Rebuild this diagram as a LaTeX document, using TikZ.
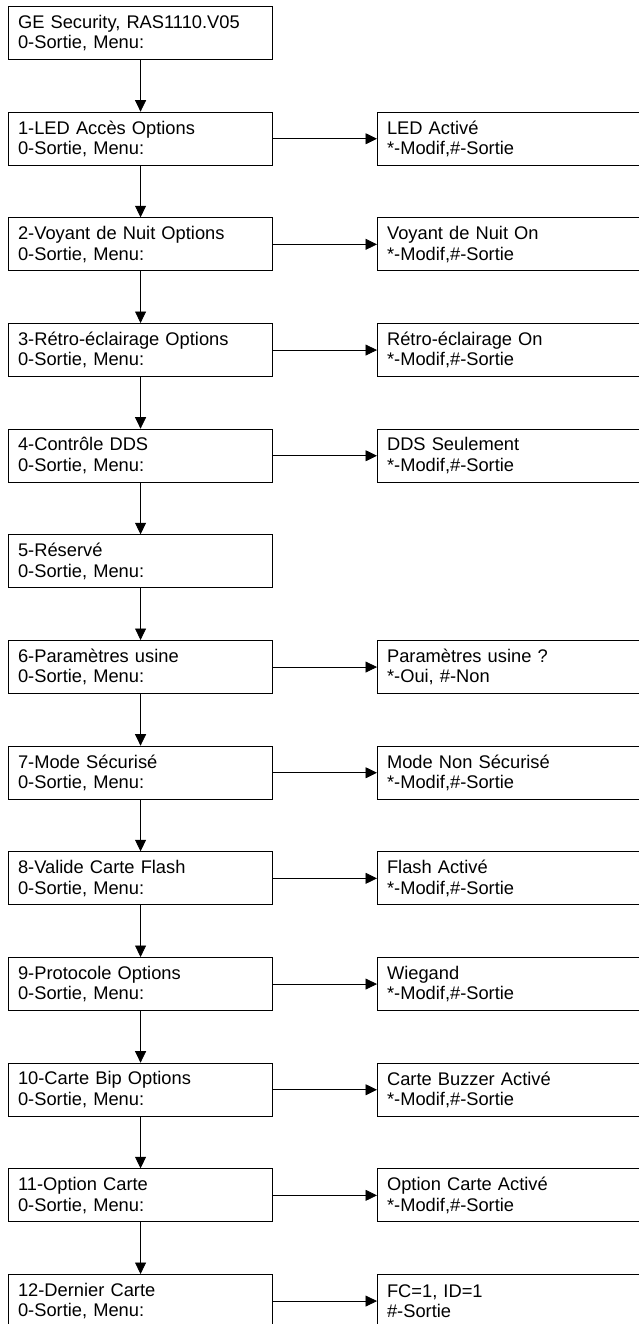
\documentclass[tikz,border=0pt]{standalone}
\usepackage{fontspec}
\setmainfont{Liberation Sans}
\usetikzlibrary{arrows.meta}

\begin{document}
\begin{tikzpicture}[x=1pt,y=-1pt,
   menu/.style={draw, line width=1.1pt, anchor=north west, text width=245pt,
      inner xsep=9.5pt, minimum height=53pt, align=left,
      font=\fontsize{18.3}{20.6}\selectfont},
   optn/.style={menu, text width=270pt},
   fl/.style={line width=0.8pt, -{Triangle[length=11.5pt,width=11pt]}}]
   \useasboundingbox (0,0) rectangle (638,1324);
 %
   \node[menu] (m0)  at (8,    6.0) {GE Security, RAS1110.V05\\0-Sortie, Menu:};
   \node[menu] (m1)  at (8,  111.7) {1-LED Accès Options\\0-Sortie, Menu:};
   \node[menu] (m2)  at (8,  217.3) {2-Voyant de Nuit Options\\0-Sortie, Menu:};
   \node[menu] (m3)  at (8,  323.0) {3-Rétro-éclairage Options\\0-Sortie, Menu:};
   \node[menu] (m4)  at (8,  428.7) {4-Contrôle DDS\\0-Sortie, Menu:};
   \node[menu] (m5)  at (8,  534.3) {5-Réservé\\0-Sortie, Menu:};
   \node[menu] (m6)  at (8,  640.0) {6-Paramètres usine\\0-Sortie, Menu:};
   \node[menu] (m7)  at (8,  745.7) {7-Mode Sécurisé\\0-Sortie, Menu:};
   \node[menu] (m8)  at (8,  851.3) {8-Valide Carte Flash\\0-Sortie, Menu:};
   \node[menu] (m9)  at (8,  957.0) {9-Protocole Options\\0-Sortie, Menu:};
   \node[menu] (m10) at (8, 1062.7) {10-Carte Bip Options\\0-Sortie, Menu:};
   \node[menu] (m11) at (8, 1168.3) {11-Option Carte\\0-Sortie, Menu:};
   \node[menu] (m12) at (8, 1274.0) {12-Dernier Carte\\0-Sortie, Menu:};
 %
   \node[optn] (o1)  at (377,  111.7) {LED Activé\\{*}-Modif,\#-Sortie};
   \node[optn] (o2)  at (377,  217.3) {Voyant de Nuit On\\{*}-Modif,\#-Sortie};
   \node[optn] (o3)  at (377,  323.0) {Rétro-éclairage On\\{*}-Modif,\#-Sortie};
   \node[optn] (o4)  at (377,  428.7) {DDS Seulement\\{*}-Modif,\#-Sortie};
   \node[optn] (o6)  at (377,  640.0) {Paramètres usine ?\\{*}-Oui, \#-Non};
   \node[optn] (o7)  at (377,  745.7) {Mode Non Sécurisé\\{*}-Modif,\#-Sortie};
   \node[optn] (o8)  at (377,  851.3) {Flash Activé\\{*}-Modif,\#-Sortie};
   \node[optn] (o9)  at (377,  957.0) {Wiegand\\{*}-Modif,\#-Sortie};
   \node[optn] (o10) at (377, 1062.7) {Carte Buzzer Activé\\{*}-Modif,\#-Sortie};
   \node[optn] (o11) at (377, 1168.3) {Option Carte Activé\\{*}-Modif,\#-Sortie};
   \node[optn] (o12) at (377, 1274.0) {FC=1, ID=1\\\#-Sortie};
 %
   \draw[fl] (m0)  -- (m1);
   \draw[fl] (m1)  -- (m2);
   \draw[fl] (m2)  -- (m3);
   \draw[fl] (m3)  -- (m4);
   \draw[fl] (m4)  -- (m5);
   \draw[fl] (m5)  -- (m6);
   \draw[fl] (m6)  -- (m7);
   \draw[fl] (m7)  -- (m8);
   \draw[fl] (m8)  -- (m9);
   \draw[fl] (m9)  -- (m10);
   \draw[fl] (m10) -- (m11);
   \draw[fl] (m11) -- (m12);
 %
   \draw[fl] (m1)  -- (o1);
   \draw[fl] (m2)  -- (o2);
   \draw[fl] (m3)  -- (o3);
   \draw[fl] (m4)  -- (o4);
   \draw[fl] (m6)  -- (o6);
   \draw[fl] (m7)  -- (o7);
   \draw[fl] (m8)  -- (o8);
   \draw[fl] (m9)  -- (o9);
   \draw[fl] (m10) -- (o10);
   \draw[fl] (m11) -- (o11);
   \draw[fl] (m12) -- (o12);
\end{tikzpicture}
\end{document}
